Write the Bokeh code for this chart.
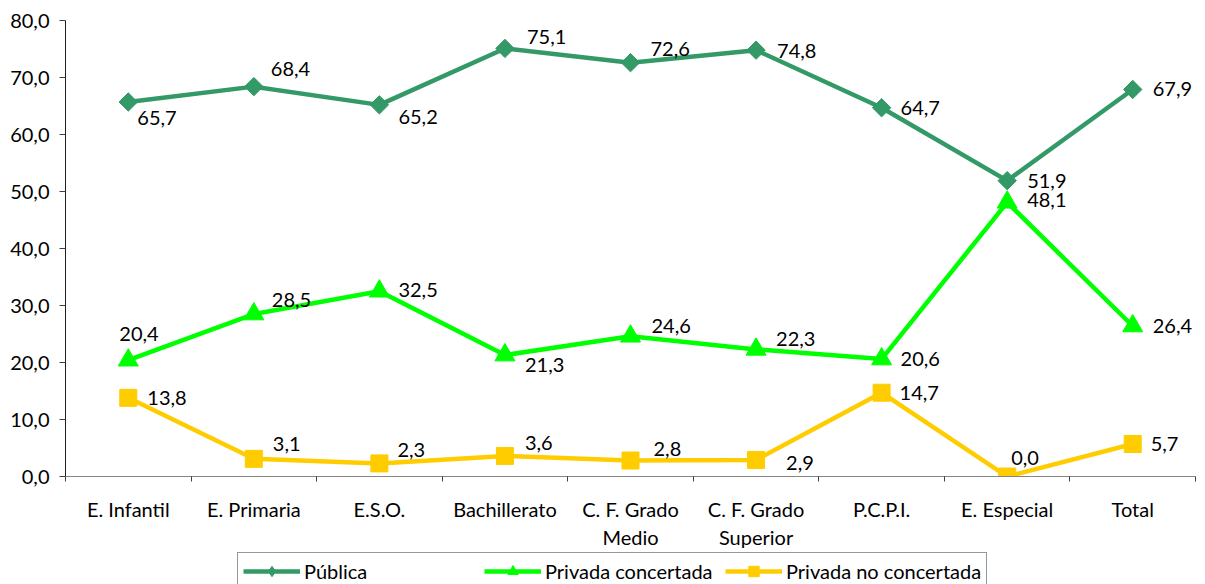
import math
from bokeh.plotting import figure
from bokeh.layouts import column
from bokeh.models import (ColumnDataSource, Range1d, FixedTicker, Legend, LegendItem)
from bokeh.core.properties import value
from bokeh.embed import file_html
from bokeh.resources import INLINE

categories = ["E. Infantil", "E. Primaria", "E.S.O.", "Bachillerato",
              "C. F. Grado\nMedio", "C. F. Grado\nSuperior", "P.C.P.I.",
              "E. Especial", "Total"]
publica = [65.7, 68.4, 65.2, 75.1, 72.6, 74.8, 64.7, 51.9, 67.9]
concertada = [20.4, 28.5, 32.5, 21.3, 24.6, 22.3, 20.6, 48.1, 26.4]
no_concertada = [13.8, 3.1, 2.3, 3.6, 2.8, 2.9, 14.7, 0.0, 5.7]
y_ticks = [0, 10, 20, 30, 40, 50, 60, 70, 80]
y_tick_labels = ["0,0", "10,0", "20,0", "30,0", "40,0", "50,0", "60,0", "70,0", "80,0"]
series_names = ["Pública", "Privada concertada", "Privada no concertada"]

# label offsets (pixels; dy positive = down)
off_pub = [(9, 16), (17, -18), (19, 12), (22, -11), (20, -14), (21, 1), (19, 0), (20, 0), (20, 0)]
off_con = [(-9, -26), (18, -14), (19, -1), (20, 10), (21, -10), (20, -10), (19, 0), (20, -2), (20, 0)]
off_noc = [(19, 0), (19, -15), (18, -13), (20, -13), (23, -12), (30, 3), (18, 0), (4, -19), (18, 0)]

FONT = "Lato"
FS = "20px"

xs = [i + 0.5 for i in range(len(categories))]

p = figure(width=1205, height=552, output_backend="svg", toolbar_location=None,
           x_range=Range1d(0, len(categories)), y_range=Range1d(0, 80),
           min_border_left=65, min_border_right=10, min_border_top=20, min_border_bottom=76)
p.outline_line_color = None
p.xgrid.visible = False
p.ygrid.visible = False
p.background_fill_color = "white"
p.border_fill_color = "white"

# axes
p.xaxis.ticker = FixedTicker(ticks=xs, minor_ticks=list(range(len(categories) + 1)))
p.xaxis.major_label_overrides = {x: c for x, c in zip(xs, categories)}
p.xaxis.major_tick_line_color = None
p.xaxis.major_tick_out = 0
p.xaxis.major_tick_in = 0
p.xaxis.minor_tick_out = 5
p.xaxis.minor_tick_in = 0
p.xaxis.minor_tick_line_color = "#404040"
p.xaxis.axis_line_color = "#868686"
p.xaxis.major_label_standoff = 15
p.xaxis.major_label_text_font = FONT
p.xaxis.major_label_text_font_size = FS
p.xaxis.major_label_text_color = "black"

p.yaxis.ticker = FixedTicker(ticks=y_ticks, minor_ticks=[])
p.yaxis.major_label_overrides = {t: l for t, l in zip(y_ticks, y_tick_labels)}
p.yaxis.major_tick_out = 6
p.yaxis.major_tick_in = 0
p.yaxis.major_tick_line_color = "#404040"
p.yaxis.axis_line_color = "#202020"
p.yaxis.major_label_standoff = 10
p.yaxis.major_label_text_font = FONT
p.yaxis.major_label_text_font_size = FS
p.yaxis.major_label_text_color = "black"

colors = ["#339966", "#00FF00", "#FFCC00"]
series = [publica, concertada, no_concertada]
offsets = [off_pub, off_con, off_noc]
sources = []
for name, vals, col, offs in zip(series_names, series, colors, offsets):
    src = ColumnDataSource(dict(
        x=xs, y=vals,
        lbl=[f"{v:.1f}".replace(".", ",") for v in vals],
        dx=[o[0] for o in offs], dy=[o[1] for o in offs]))
    sources.append(src)
    p.line("x", "y", source=src, line_color=col, line_width=4.5)
    if name == "Pública":
        p.scatter("x", "y", source=src, marker="square", size=13, angle=math.pi / 4,
                  fill_color=col, line_color=col)
    elif name == "Privada concertada":
        p.scatter("x", "y", source=src, marker="triangle", size=20,
                  fill_color=col, line_color=col)
    else:
        p.scatter("x", "y", source=src, marker="square", size=17,
                  fill_color=col, line_color=col)
    p.text("x", "y", text="lbl", source=src, x_offset="dx", y_offset="dy",
           text_font=value(FONT), text_font_size=FS, text_color="black",
           text_align="left", text_baseline="middle")

# legend strip: separate figure (so the legend is not clipped by the plot frame);
# its renderers use the same data but its y range keeps them out of view.
pl = figure(width=1205, height=32, output_backend="svg", toolbar_location=None,
            x_range=Range1d(0, len(categories)), y_range=Range1d(500, 501),
            x_axis_location=None, y_axis_location=None,
            min_border_left=65, min_border_right=10, min_border_top=0, min_border_bottom=0)
pl.outline_line_color = None
pl.xgrid.visible = False
pl.ygrid.visible = False
items = []
for name, col, mk, src in zip(series_names, colors, ["diamond", "triangle", "square"], sources):
    ln = pl.line("x", "y", source=src, line_color=col, line_width=4.5)
    sc = pl.scatter("x", "y", source=src, marker=mk, fill_color=col, line_color=col)
    items.append(LegendItem(label=name, renderers=[ln, sc]))

legend = Legend(items=items, orientation="horizontal", location=(172, -6),
                glyph_width=57, glyph_height=26, label_standoff=4, label_width=178,
                spacing=2, padding=5, margin=0,
                label_text_font=FONT, label_text_font_size=FS, label_text_color="black",
                border_line_color="#303030", border_line_width=1,
                background_fill_color="white", background_fill_alpha=1)
pl.add_layout(legend, "center")

layout = column(p, pl, spacing=0)
open("out.html", "w").write(file_html(layout, INLINE))
